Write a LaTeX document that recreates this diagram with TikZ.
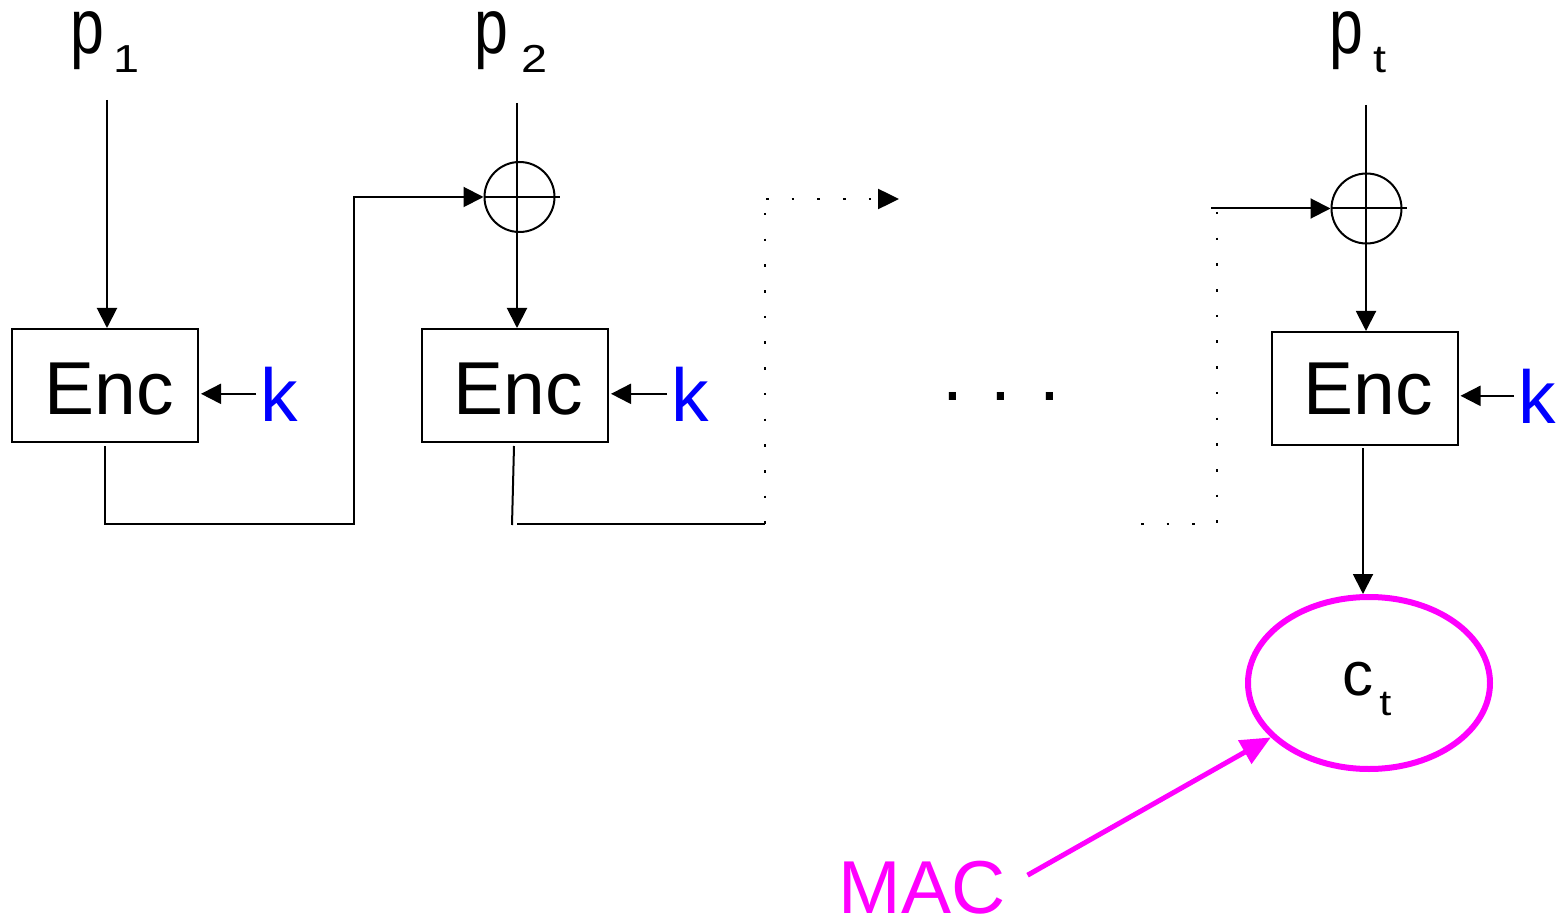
\documentclass[tikz,border=0pt]{standalone}
\usepackage{fontspec}
\usepackage{graphicx}
\setmainfont{Liberation Sans}
\usetikzlibrary{arrows.meta,shapes.geometric,calc}
\definecolor{mag}{RGB}{255,0,255}
\definecolor{kblue}{RGB}{0,0,255}
\newcommand\fsBig{\fontsize{75pt}{80pt}\selectfont}
\newcommand\fsP{\fontsize{78pt}{82pt}\selectfont}
\newcommand\fsSub{\fontsize{39pt}{42pt}\selectfont}
\newcommand\fsC{\fontsize{62pt}{66pt}\selectfont}
\newcommand\plab[2]{\fsP\scalebox{0.78}[1]{p}\hspace{#2}\raisebox{-19.5pt}{\fsSub\scalebox{1.2}[1]{#1}}}
\begin{document}
\begin{tikzpicture}[x=1pt,y=-1pt,
  wire/.style={line width=2pt},
  arr/.style={line width=2pt,-{Triangle[length=20pt,width=20pt]}},
  dots/.style={line width=2.5pt,dash pattern=on 2.5pt off 23.2pt},
  encbox/.style={draw,line width=2pt,minimum width=186pt,minimum height=113pt,inner sep=0pt},
  enctxt/.style={inner sep=0pt,font=\fsBig},
  ktxt/.style={inner sep=0pt,anchor=base west,text=kblue,font=\fsBig},
  ptxt/.style={inner sep=0pt,anchor=base west},
  xorc/.style={draw,circle,line width=2pt,minimum size=70pt,inner sep=0pt},
]
\useasboundingbox (0,0) rectangle (1559,917);

% plaintext labels
\node[ptxt] (p1) at (70,53.5) {\plab{1}{9.5pt}};
\node[ptxt] (p2) at (474,53.5) {\plab{2}{13pt}};
\node[ptxt] (pt) at (1329,53.5) {\plab{t}{10pt}};

% Enc boxes
\node[encbox] (e1) at (105,385.5) {};
\node[enctxt] (t1) at (109,389) {Enc};
\node[encbox] (e2) at (515,385.5) {};
\node[enctxt] (t2) at (518.5,389) {Enc};
\node[encbox] (e3) at (1364.5,388.5) {};
\node[enctxt] (t3) at (1368,389) {Enc};

% keys
\node[ktxt] (k1) at (260,421) {k};
\node[ktxt] (k2) at (671,421) {k};
\node[ktxt] (k3) at (1518,423) {k};
\draw[arr,shorten >=2pt] ([xshift=-4pt]k1.west) -- (k1.west -| e1.east);
\draw[arr,shorten >=2pt] ([xshift=-4pt]k2.west) -- (k2.west -| e2.east);
\draw[arr,shorten >=2pt] ([xshift=-4pt]k3.west) -- (k3.west -| e3.east);

% XOR circles
\node[xorc] (x2) at (519.5,197) {};
\node[xorc] (xt) at (1366.5,208.5) {};
\draw[wire] (x2.west) -- ++(76,0);
\draw[wire] (xt.west) -- ++(76,0);

% inputs
\coordinate (s1) at (107,100);
\coordinate (s2) at (517,103);
\coordinate (s3) at (1366,105);
\draw[arr] (s1) -- (s1 |- e1.north);
\draw[arr] (s2) -- (s2 |- e2.north);
\draw[arr] (s3) -- (s3 |- e3.north);

% chaining block 1 -> xor 2
\coordinate (b1) at (105,446);
\coordinate (c1) at (105,524);
\coordinate (c2) at (354,524);
\coordinate (c3) at (354,197);
\draw[arr] (b1) -- (c1) -- (c2) -- (c3) -- (x2.west);

% chaining block 2 -> onward (dotted)
\coordinate (b2) at (514,446);
\coordinate (b2b) at (512,525);
\coordinate (d1) at (517,524);
\coordinate (d2) at (765,524);
\coordinate (d3) at (765,213);
\coordinate (d4) at (766,199);
\coordinate (d5) at (899,199);
\draw[wire] (b2) -- (b2b);
\draw[wire] (d1) -- (d2);
\draw[dots] (d3) -- (d2);
\draw[dots,-{Triangle[length=21pt,width=20pt]}] (d4) -- (d5);

% ellipsis
\node[inner sep=0pt,anchor=base west,font=\fsBig] (ell) at (942,401) {. . .};

% dotted into last xor
\coordinate (f1) at (1141,524);
\coordinate (f2) at (1217,524);
\coordinate (f3) at (1217,212);
\coordinate (f4) at (1211,208.5);
\draw[dots] (f1) -- (f2);
\draw[dots] (f3) -- (f2);
\draw[arr] (f4) -- (xt.west);

% output ellipse
\node[draw=mag,line width=6pt,ellipse,minimum width=242pt,minimum height=172pt,inner sep=0pt] (ct) at (1369,683) {};
\node[inner sep=0pt,anchor=base west] (ctl) at (1342.6,695) {\fsC c\hspace{5.5pt}\raisebox{-20pt}{\fontsize{36pt}{40pt}\selectfont\scalebox{1.2}[1]{t}}};
\coordinate (o3) at (1363,448);
\draw[arr] (o3) -- (o3 |- ct.north);

% MAC label
\node[inner sep=0pt,anchor=base west,text=mag,font=\fsBig] (mac) at (838.5,913) {MAC};
\draw[draw=mag,line width=5pt,-{Triangle[length=30pt,width=26pt]},mag] ($(mac.east)+(22,-12)$) -- (ct.209);
\end{tikzpicture}
\end{document}
